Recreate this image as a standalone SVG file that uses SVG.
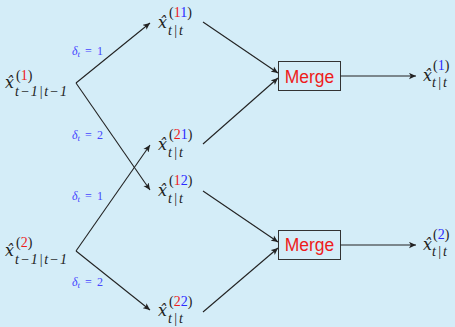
<svg xmlns="http://www.w3.org/2000/svg" width="455" height="327" viewBox="0 0 455 327">
<defs>
<marker id="ah" viewBox="0 0 10 10" refX="10" refY="5" markerWidth="7" markerHeight="7" markerUnits="userSpaceOnUse" orient="auto">
<path d="M0,0.5 L10,5 L0,9.5 L2.5,5 Z" fill="#222"/>
</marker>
<style>
.m{font-family:"DejaVu Serif","Liberation Serif",serif;font-style:italic;font-size:16px;fill:#222}
.s{font-family:"Liberation Serif",serif;font-size:14px;fill:#222}
.si{font-family:"Liberation Serif",serif;font-style:italic;font-size:14px;fill:#222}
.r{fill:#ee1c1c}
.b{fill:#2a2aff}
.d{font-family:"Liberation Serif",serif;font-size:12px;fill:#4646ff}
.mg{font-family:"Liberation Sans","DejaVu Sans",sans-serif;font-size:17.5px;fill:#ee1c1c}
.bx{fill:none;stroke:#333;stroke-width:1}
.c{fill:none;stroke:#222;stroke-width:1.1;marker-end:url(#ah)}
</style>
</defs>
<rect width="455" height="327" fill="#d4edf8"/>

<g id="prior1">
<text class="m" x="5" y="88">x̂</text>
<text class="s" x="16" y="80">(<tspan class="r">1</tspan>)</text>
<text class="si" x="15" y="96" textLength="52" lengthAdjust="spacing">t−1|t−1</text>
</g>
<g id="prior2">
<text class="m" x="5" y="256">x̂</text>
<text class="s" x="16" y="247">(<tspan class="r">2</tspan>)</text>
<text class="si" x="15" y="264" textLength="52" lengthAdjust="spacing">t−1|t−1</text>
</g>

<g id="x11">
<text class="m" x="158" y="28">x̂</text>
<text class="s" x="169" y="17">(<tspan class="r">1</tspan><tspan class="b">1</tspan>)</text>
<text class="si" x="168" y="35" textLength="15">t|t</text>
</g>
<g id="x21">
<text class="m" x="158" y="150">x̂</text>
<text class="s" x="169" y="139">(<tspan class="r">2</tspan><tspan class="b">1</tspan>)</text>
<text class="si" x="168" y="157" textLength="15">t|t</text>
</g>
<g id="x12">
<text class="m" x="158" y="196">x̂</text>
<text class="s" x="169" y="185">(<tspan class="r">1</tspan><tspan class="b">2</tspan>)</text>
<text class="si" x="168" y="203" textLength="15">t|t</text>
</g>
<g id="x22">
<text class="m" x="158" y="316">x̂</text>
<text class="s" x="169" y="306">(<tspan class="r">2</tspan><tspan class="b">2</tspan>)</text>
<text class="si" x="168" y="323" textLength="15">t|t</text>
</g>

<g id="merge1">
<rect class="bx" x="278.5" y="61.5" width="62" height="29"/>
<text class="mg" x="309.5" y="83" text-anchor="middle">Merge</text>
</g>
<g id="merge2">
<rect class="bx" x="278.5" y="230.5" width="62" height="29"/>
<text class="mg" x="309.5" y="251" text-anchor="middle">Merge</text>
</g>

<g id="post1">
<text class="m" x="423" y="81">x̂</text>
<text class="s" x="433" y="70">(<tspan class="b">1</tspan>)</text>
<text class="si" x="432" y="87" textLength="15">t|t</text>
</g>
<g id="post2">
<text class="m" x="423" y="250">x̂</text>
<text class="s" x="433" y="239">(<tspan class="b">2</tspan>)</text>
<text class="si" x="432" y="256" textLength="15">t|t</text>
</g>

<g id="connectors">
<path class="c" d="M76,83 L150,23"/>
<path class="c" d="M76,83 L150,190"/>
<path class="c" d="M76,251 L150,145"/>
<path class="c" d="M76,251 L150,310"/>
<path class="c" d="M203,22 L278,73"/>
<path class="c" d="M203,144 L278,78"/>
<path class="c" d="M203,191 L278,242"/>
<path class="c" d="M203,312 L278,248"/>
<path class="c" d="M340.5,76 L416,76"/>
<path class="c" d="M340.5,245 L416,245"/>
</g>

<g id="labels">
<text class="d" x="72" y="55"><tspan font-style="italic">δ</tspan><tspan font-style="italic" font-size="9px" dy="2">t</tspan><tspan dy="-2" dx="5">=</tspan><tspan dx="5">1</tspan></text>
<text class="d" x="72" y="139"><tspan font-style="italic">δ</tspan><tspan font-style="italic" font-size="9px" dy="2">t</tspan><tspan dy="-2" dx="5">=</tspan><tspan dx="5">2</tspan></text>
<text class="d" x="72" y="200"><tspan font-style="italic">δ</tspan><tspan font-style="italic" font-size="9px" dy="2">t</tspan><tspan dy="-2" dx="5">=</tspan><tspan dx="5">1</tspan></text>
<text class="d" x="72" y="286"><tspan font-style="italic">δ</tspan><tspan font-style="italic" font-size="9px" dy="2">t</tspan><tspan dy="-2" dx="5">=</tspan><tspan dx="5">2</tspan></text>
</g>
</svg>
